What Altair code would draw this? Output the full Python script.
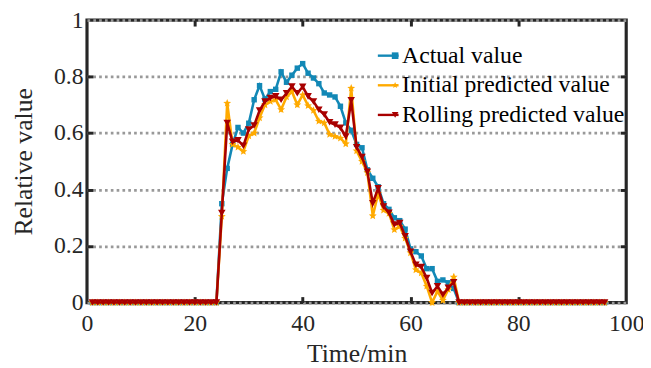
import math
import altair as alt
import pandas as pd

minutes = list(range(1, 97))

actual_mid = [0.35, 0.475, 0.56, 0.62, 0.60, 0.635, 0.718, 0.768, 0.72, 0.747,
              0.755, 0.817, 0.78, 0.805, 0.83, 0.846, 0.812, 0.795, 0.775, 0.742,
              0.735, 0.728, 0.695, 0.636, 0.61, 0.56, 0.548, 0.47, 0.44, 0.41,
              0.35, 0.33, 0.30, 0.29, 0.26, 0.19, 0.18, 0.165, 0.12, 0.12,
              0.075, 0.08, 0.07, 0.05]
initial_mid = [0.305, 0.706, 0.56, 0.55, 0.535, 0.59, 0.60, 0.654, 0.70, 0.712,
               0.718, 0.683, 0.728, 0.747, 0.70, 0.735, 0.697, 0.68, 0.642, 0.636,
               0.595, 0.588, 0.582, 0.562, 0.759, 0.537, 0.50, 0.46, 0.307, 0.386,
               0.327, 0.316, 0.258, 0.27, 0.228, 0.176, 0.116, 0.105, 0.058, 0.0,
               0.04, 0.008, 0.046, 0.09]
rolling_mid = [0.317, 0.636, 0.569, 0.575, 0.555, 0.613, 0.627, 0.68, 0.712, 0.724,
               0.73, 0.718, 0.741, 0.765, 0.741, 0.764, 0.73, 0.712, 0.683, 0.666,
               0.638, 0.63, 0.619, 0.588, 0.716, 0.55, 0.515, 0.463, 0.352, 0.405,
               0.34, 0.318, 0.276, 0.282, 0.235, 0.18, 0.134, 0.126, 0.087, 0.034,
               0.058, 0.028, 0.052, 0.072]

lead_zeros = [0.0] * 24   # minutes 1..24
tail_zeros = [0.0] * 28   # minutes 69..96

actual = lead_zeros + actual_mid + tail_zeros
initial = lead_zeros + initial_mid + tail_zeros
rolling = lead_zeros + rolling_mid + tail_zeros

series_names = ["Actual value", "Initial predicted value", "Rolling predicted value"]
series_values = [actual, initial, rolling]
colors = ["#1288B6", "#FFAA00", "#A80000"]
marker_sizes = [30, 70, 58]

x_ticks = [0, 20, 40, 60, 80, 100]
y_ticks = [0, 0.2, 0.4, 0.6, 0.8, 1]


def star_path(n=5, inner=0.45):
    pts = []
    for i in range(2 * n):
        r = 1.0 if i % 2 == 0 else inner
        a = math.radians(-90 + 180.0 * i / n)
        pts.append(f"{r * math.cos(a):.3f},{r * math.sin(a):.3f}")
    return "M" + "L".join(pts) + "Z"


shapes = ["square", star_path(), "triangle-down"]

rows = []
for name, vals in zip(series_names, series_values):
    for m, v in zip(minutes, vals):
        rows.append({"t": m, "v": v, "s1": name, "s2": name})
df = pd.DataFrame(rows)

FONT = "Liberation Serif"
INK = "#262626"
W, H = 546, 286

xscale = alt.Scale(domain=[0, 100], nice=False)
yscale = alt.Scale(domain=[0, 1], nice=False)
stroke_scale = alt.Scale(range=colors)  # domain from data (alphabetical = series order)
fill_scale = alt.Scale(domain=series_names, range=colors)
shape_scale = alt.Scale(domain=series_names, range=shapes)

x_main = alt.Axis(values=x_ticks, title="Time/min", grid=False, domain=False,
                  ticks=False, labelFont=FONT, labelFontSize=24, labelColor=INK,
                  titleFont=FONT, titleFontSize=26, titleColor=INK,
                  titleFontWeight="normal", labelPadding=9, titlePadding=6,
                  labelFlush=False)
y_main = alt.Axis(values=y_ticks, format="~g", title="Relative value", grid=True,
                  gridDash=[2.7, 3.2], gridWidth=2.8, gridColor="#999999",
                  domain=False, ticks=False, labelFont=FONT, labelFontSize=24,
                  labelColor=INK, titleFont=FONT, titleFontSize=26,
                  titleColor=INK, titleFontWeight="normal", labelPadding=4,
                  titlePadding=17, labelFlush=False)

tick_common = dict(labels=False, domain=False, grid=False, ticks=True,
                   tickSize=6, tickWidth=3, tickColor=INK, title=None)
x_top_in = alt.Axis(orient="top", offset=-H, values=[20, 40, 60, 80], **tick_common)
x_bot_in = alt.Axis(orient="bottom", offset=-H, values=[20, 40, 60, 80], **tick_common)
y_left_in = alt.Axis(orient="right", offset=-W, values=[0.2, 0.4, 0.6, 0.8], **tick_common)
y_right_in = alt.Axis(orient="left", offset=-W, values=[0.2, 0.4, 0.6, 0.8], **tick_common)

line_legend = alt.Legend(orient="none", legendX=293, legendY=24, title=None,
                         symbolType="stroke", symbolSize=441, symbolStrokeWidth=2.4,
                         labelFont=FONT, labelFontSize=24, labelColor="#000000",
                         labelLimit=400, rowPadding=6, padding=0, labelOffset=2)
mark_legend = alt.Legend(orient="none", legendX=300, legendY=24, title=None,
                         symbolSize=45, labelFont=FONT, labelFontSize=24,
                         labelLimit=400, labelOpacity=0, rowPadding=6, padding=0,
                         labelOffset=2)

axis_plan = [
    (x_main, y_main),
    (x_top_in, y_left_in),
    (x_bot_in, y_right_in),
    (None, None), (None, None), (None, None),
]

layers = []
k = 0
for i, name in enumerate(series_names):
    base = alt.Chart(df).transform_filter(alt.datum.s1 == name)
    xa, ya = axis_plan[k]
    k += 1
    line = base.mark_line(strokeWidth=2.6).encode(
        x=alt.X("t:Q", scale=xscale, axis=xa),
        y=alt.Y("v:Q", scale=yscale, axis=ya),
        stroke=alt.Stroke("s1:N", scale=stroke_scale, legend=line_legend),
    )
    xa, ya = axis_plan[k]
    k += 1
    pts = base.mark_point(filled=True, opacity=1, size=marker_sizes[i]).encode(
        x=alt.X("t:Q", scale=xscale, axis=xa),
        y=alt.Y("v:Q", scale=yscale, axis=ya),
        fill=alt.Fill("s2:N", scale=fill_scale, legend=mark_legend),
        shape=alt.Shape("s2:N", scale=shape_scale, legend=mark_legend),
    )
    layers += [line, pts]

chart = alt.layer(*layers).properties(
    width=W, height=H,
    autosize=alt.AutoSizeParams(type="none"),
    padding={"left": 80, "top": 10, "right": 17, "bottom": 64},
    background="white",
).configure_view(stroke=INK, strokeWidth=3.2)

chart.save("out.html", embed_options={"renderer": "svg", "actions": False})
